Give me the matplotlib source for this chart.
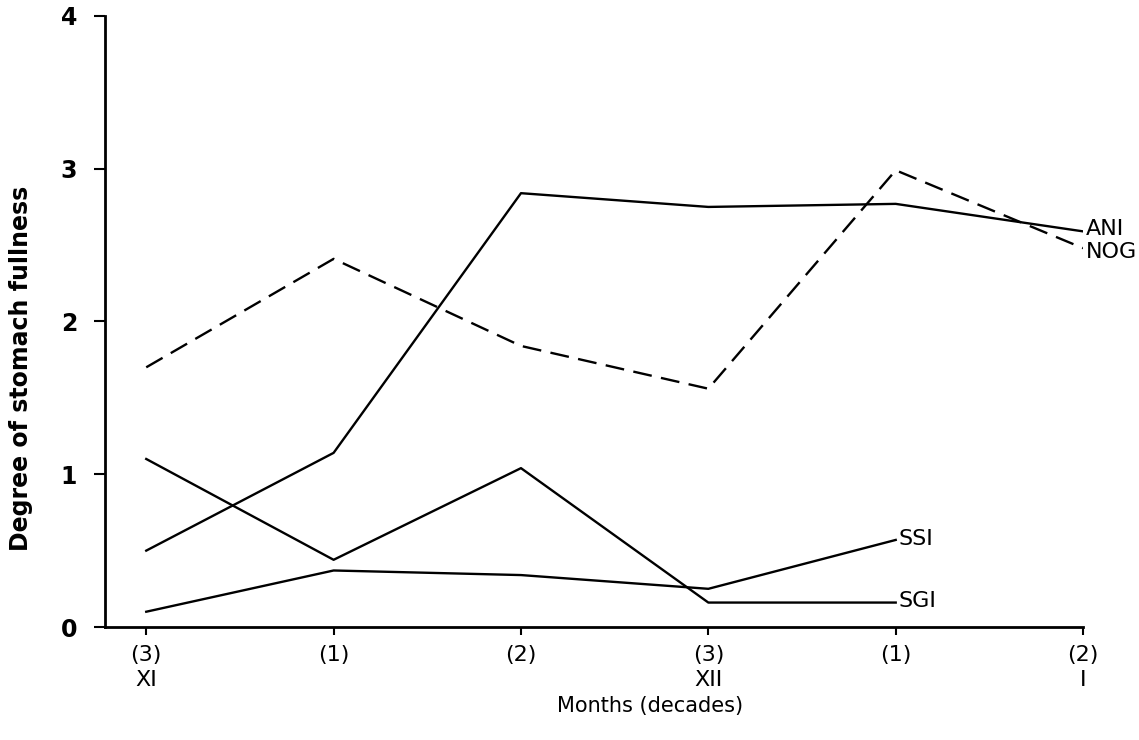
import matplotlib
matplotlib.use("Agg")
import matplotlib.pyplot as plt

# decades along the x axis
tick_labels = ["(3)\nXI", "(1)", "(2)", "(3)\nXII", "(1)", "(2)\nI"]
positions = [0, 1, 2, 3, 4, 5]

# degree of stomach fullness per species
ani = [0.50, 1.14, 2.84, 2.75, 2.77, 2.59]
nog = [1.70, 2.41, 1.84, 1.56, 2.99, 2.48]
ssi = [0.10, 0.37, 0.34, 0.25, 0.57]
sgi = [1.10, 0.44, 1.04, 0.16, 0.16]

plt.rcParams['font.family'] = ['DejaVu Sans']

fig = plt.figure(figsize=(11.39, 7.40), dpi=100)
ax = fig.add_axes([0.0922, 0.1527, 0.8587, 0.8257])

lw = 1.7
ax.plot(positions, ani, color='black', linewidth=lw)
ax.plot(positions, nog, color='black', linewidth=lw, dashes=(8, 4))
ax.plot(positions[:5], ssi, color='black', linewidth=lw)
ax.plot(positions[:5], sgi, color='black', linewidth=lw)

# labels at the ends of the lines
lbl = dict(fontsize=16, va='center', ha='left', annotation_clip=False,
           textcoords='offset points')
ax.annotate("ANI", (positions[5], ani[5]), xytext=(2, 2), **lbl)
ax.annotate("NOG", (positions[5], nog[5]), xytext=(2, -3), **lbl)
ax.annotate("SSI", (positions[4], ssi[4]), xytext=(2, 1), **lbl)
ax.annotate("SGI", (positions[4], sgi[4]), xytext=(2, 1), **lbl)

ax.set_xlim(-0.22, 5)
ax.set_ylim(0, 4)
ax.set_xticks(positions)
ax.set_xticklabels(tick_labels, fontsize=16, linespacing=1.3)
ax.set_yticks([0, 1, 2, 3, 4])
ax.set_yticklabels(["0", "1", "2", "3", "4"], fontsize=17, fontweight='bold')

for side in ['top', 'right']:
    ax.spines[side].set_visible(False)
for side in ['left', 'bottom']:
    ax.spines[side].set_linewidth(2)
ax.tick_params(axis='y', direction='out', length=8, width=1.5, pad=12)
ax.tick_params(axis='x', direction='out', length=6, width=1.5, pad=7)

ax.set_xlabel("Months (decades)", fontsize=15)
ax.xaxis.set_label_coords(0.557, -0.113)
ax.set_ylabel("Degree of stomach fullness", fontsize=17, fontweight='bold')
ax.yaxis.set_label_coords(-0.074, 0.424)

fig.savefig("out.png", dpi=100)
